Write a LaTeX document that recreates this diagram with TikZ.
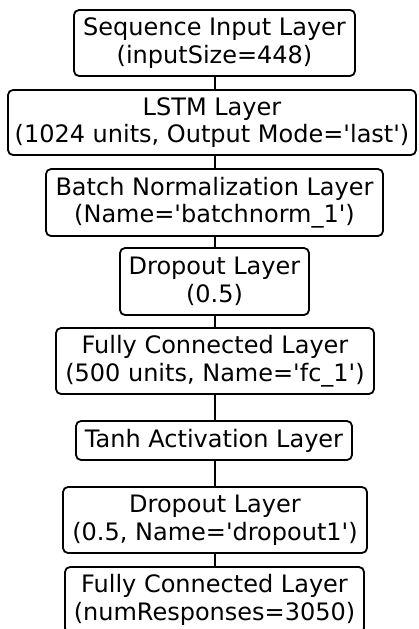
\documentclass[tikz,border=0pt]{standalone}
\usepackage{fontspec}
\setmainfont{DejaVu Sans}
\newcommand{\sq}{{\XeTeXglyph\XeTeXcharglyph"27\relax}}
\begin{document}
\begin{tikzpicture}[x=1pt,y=-1pt,
  layer/.style={draw=black, line width=1.8pt, rounded corners=5pt, fill=white,
    inner sep=0pt, align=center, font=\fontsize{24}{27.5}\selectfont},
  link/.style={line width=2.6pt, draw=black}]
\useasboundingbox (0,0) rectangle (418,629);
\clip (0,0) rectangle (418,629);
\fill[white] (0,0) rectangle (418,629);
\node[layer, minimum width=281pt, minimum height=66pt] (b1) at (214.5,43) {Sequence Input Layer\\(inputSize=448)};
\node[layer, minimum width=408pt, minimum height=65pt] (b2) at (212,122.5) {LSTM Layer\\(1024 units, Output Mode=\sq last\sq)};
\node[layer, minimum width=337pt, minimum height=67pt] (b3) at (214.5,202.5) {Batch Normalization Layer\\(Name=\sq batchnorm\_1\sq)};
\node[layer, minimum width=189pt, minimum height=67pt] (b4) at (214.5,281.5) {Dropout Layer\\(0.5)};
\node[layer, minimum width=318pt, minimum height=66pt] (b5) at (215,361) {Fully Connected Layer\\(500 units, Name=\sq fc\_1\sq)};
\node[layer, minimum width=276pt, minimum height=39pt] (b6) at (214,440.5) {Tanh Activation Layer};
\node[layer, minimum width=304pt, minimum height=66pt] (b7) at (215,520) {Dropout Layer\\(0.5, Name=\sq dropout1\sq)};
\node[layer, minimum width=299pt, minimum height=66pt] (b8) at (214.5,600) {Fully Connected Layer\\(numResponses=3050)};
\coordinate (cx) at (215,0);
\foreach \a/\b in {b1/b2,b2/b3,b3/b4,b4/b5,b5/b6,b6/b7,b7/b8}{
  \draw[link] (cx |- \a.south) -- (cx |- \b.north);
}
\end{tikzpicture}
\end{document}
